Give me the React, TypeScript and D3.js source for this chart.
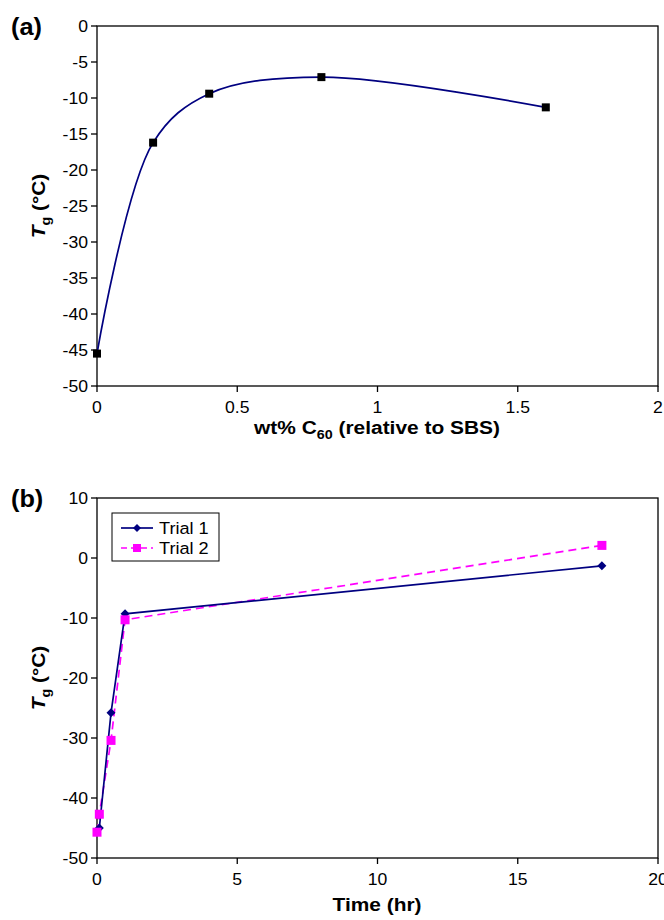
import React from "react";
import * as d3 from "d3";

const aX = [0, 0.2, 0.4, 0.8, 1.6];
const aY = [-45.5, -16.2, -9.4, -7.1, -11.3];
const aXTicks = [0, 0.5, 1, 1.5, 2];
const aYTicks = [0, -5, -10, -15, -20, -25, -30, -35, -40, -45, -50];

const t1X = [0.083, 0.5, 1, 18];
const t1Y = [-45, -25.8, -9.3, -1.3];
const t2X = [0, 0.083, 0.5, 1, 18];
const t2Y = [-45.7, -42.7, -30.4, -10.3, 2.1];
const bXTicks = [0, 5, 10, 15, 20];
const bYTicks = [10, 0, -10, -20, -30, -40, -50];
const legendLabels = ["Trial 1", "Trial 2"];

const FONT = "'Liberation Sans', Arial, sans-serif";
const NAVY = "#000080";
const MAG = "#FF00FF";
const SX = 1.1;

function ST({ x, y, anchor = "start", size = 16, weight = "normal", rotate = 0, dy, children }: any) {
  return (
    <g transform={`translate(${x},${y}) rotate(${rotate}) scale(${SX},1)`}>
      <text x={0} y={0} dy={dy} textAnchor={anchor} fontFamily={FONT} fontSize={size} fontWeight={weight} fill="#000">
        {children}
      </text>
    </g>
  );
}

function Frame({ x, y, xTicks, yTicks }: any) {
  const [x0, x1] = x.range();
  const [y0, y1] = y.range();
  return (
    <g>
      <rect x={x0} y={y1} width={x1 - x0} height={y0 - y1} fill="none" stroke="#000" strokeWidth={1.3} />
      {yTicks.map((t: number) => (
        <g key={"y" + t}>
          <line x1={x0 - 6} x2={x0} y1={y(t)} y2={y(t)} stroke="#000" strokeWidth={1.3} />
          <ST x={x0 - 9} y={y(t)} dy="0.36em" anchor="end" size={16}>{t}</ST>
        </g>
      ))}
      {xTicks.map((t: number) => (
        <g key={"x" + t}>
          <line x1={x(t)} x2={x(t)} y1={y0} y2={y0 + 6} stroke="#000" strokeWidth={1.3} />
          <ST x={x(t)} y={y0 + 27} anchor="middle" size={16}>{String(t)}</ST>
        </g>
      ))}
    </g>
  );
}

function YLabel({ cx, cy }: any) {
  return (
    <ST x={cx} y={cy} rotate={-90} anchor="middle" size={19} weight="bold">
      <tspan fontStyle="italic">T</tspan>
      <tspan fontSize={13} dy={5}>g</tspan>
      <tspan dy={-5}> (°C)</tspan>
    </ST>
  );
}

export default function App() {
  const xa = d3.scaleLinear().domain([0, 2]).range([97, 658]);
  const ya = d3.scaleLinear().domain([-50, 0]).range([386, 26]);
  const xb = d3.scaleLinear().domain([0, 20]).range([97, 658]);
  const yb = d3.scaleLinear().domain([-50, 10]).range([858, 498]);

  const aPts = aX.map((v, i) => [xa(v), ya(aY[i])] as [number, number]);
  const smooth = d3.line().curve(d3.curveCatmullRom.alpha(0.5))(aPts) || "";

  const line = d3.line();
  const t1Path = line(t1X.map((v, i) => [xb(v), yb(t1Y[i])] as [number, number])) || "";
  const t2Path = line(t2X.map((v, i) => [xb(v), yb(t2Y[i])] as [number, number])) || "";

  const diamond = (cx: number, cy: number, r = 4.5) => `M${cx},${cy - r}L${cx + r},${cy}L${cx},${cy + r}L${cx - r},${cy}Z`;

  return (
    <svg width={664} height={920} style={{ position: "absolute", left: 0, top: 0 }}>
      <rect width={664} height={920} fill="#fff" />
      {/* Panel a */}
      <ST x={11} y={35} size={23} weight="bold">(a)</ST>
      <Frame x={xa} y={ya} xTicks={aXTicks} yTicks={aYTicks} />
      <path d={smooth} fill="none" stroke={NAVY} strokeWidth={1.7} />
      {aPts.map((p, i) => (
        <rect key={i} x={p[0] - 4} y={p[1] - 4} width={8} height={8} fill="#000" />
      ))}
      <YLabel cx={45} cy={206} />
      <ST x={377} y={434} anchor="middle" size={19} weight="bold">
        wt% C<tspan fontSize={13} dy={5}>60</tspan><tspan dy={-5}> (relative to SBS)</tspan>
      </ST>

      {/* Panel b */}
      <ST x={11} y={507} size={23} weight="bold">(b)</ST>
      <Frame x={xb} y={yb} xTicks={bXTicks} yTicks={bYTicks} />
      <path d={t2Path} fill="none" stroke={MAG} strokeWidth={1.7} strokeDasharray="8,5" />
      <path d={t1Path} fill="none" stroke={NAVY} strokeWidth={1.7} />
      {t1X.map((v, i) => (
        <path key={"d" + i} d={diamond(xb(v), yb(t1Y[i]))} fill={NAVY} />
      ))}
      {t2X.map((v, i) => (
        <rect key={"s" + i} x={xb(v) - 4.5} y={yb(t2Y[i]) - 4.5} width={9} height={9} fill={MAG} />
      ))}
      <YLabel cx={45} cy={678} />
      <ST x={377} y={911} anchor="middle" size={19} weight="bold">Time (hr)</ST>

      {/* Legend */}
      <rect x={112} y={513} width={107} height={48} fill="#fff" stroke="#000" strokeWidth={1} />
      <line x1={121} x2={153} y1={528} y2={528} stroke={NAVY} strokeWidth={1.7} />
      <path d={diamond(137, 528, 4)} fill={NAVY} />
      <ST x={159} y={528} dy="0.36em" size={16.5}>{legendLabels[0]}</ST>
      <line x1={121} x2={153} y1={548} y2={548} stroke={MAG} strokeWidth={1.7} strokeDasharray="6,4" />
      <rect x={133} y={544} width={8} height={8} fill={MAG} />
      <ST x={159} y={548} dy="0.36em" size={16.5}>{legendLabels[1]}</ST>
    </svg>
  );
}
